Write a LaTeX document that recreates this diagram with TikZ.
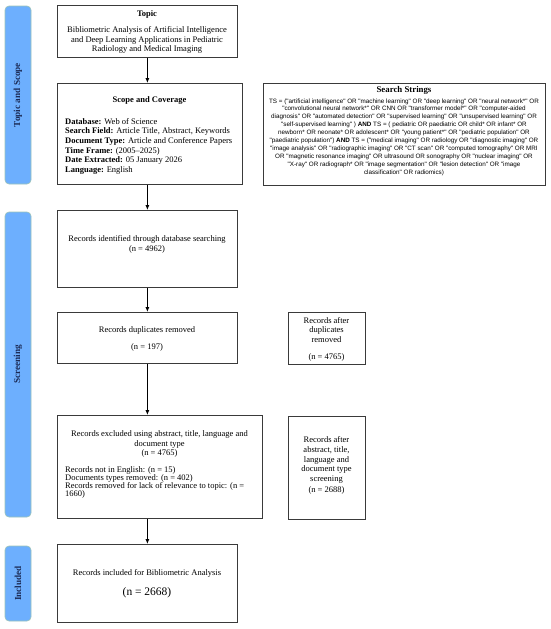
\documentclass[tikz,border=0pt]{standalone}
\usepackage{fontspec}
\setmainfont{Liberation Serif}
\newfontfamily\sansf{Liberation Sans}
\usetikzlibrary{arrows.meta}
\definecolor{barblue}{HTML}{6DAFFE}
\definecolor{baredge}{HTML}{9CC3B8}
\definecolor{bartxt}{HTML}{1B2A55}
\definecolor{boxedge}{HTML}{3A3A3A}
\tikzset{
  box/.style={draw=boxedge, line width=0.8pt, fill=white, anchor=north west, inner sep=0pt},
  bar/.style={draw=baredge, line width=0.6pt, fill=barblue, rounded corners=4pt},
  bartext/.style={rotate=90, font=\fontsize{9.2}{11}\selectfont\bfseries, text=bartxt, inner sep=0pt},
  txt/.style={inner sep=0pt, anchor=base, align=center, font=\fontsize{8.5}{9.65}\selectfont},
  ltxt/.style={inner sep=0pt, anchor=base west, align=left, font=\fontsize{8.5}{9.65}\selectfont},
  arr/.style={-{Latex[length=5pt,width=4pt]}, line width=0.8pt, black},
}
\begin{document}
\begin{tikzpicture}[x=1pt,y=-1pt]
\useasboundingbox (0,0) rectangle (550,629);
% side bars
\draw[bar] (5,6) rectangle (31,184);
\node[bartext] (lab1) at (18,95) {Topic and Scope};
\draw[bar] (5,212) rectangle (31,517);
\node[bartext] (lab2) at (18,364.5) {Screening};
\draw[bar] (5,546) rectangle (31,621);
\node[bartext] (lab3) at (18,583.5) {Included};

% boxes
\node[box, minimum width=180pt, minimum height=52pt] (topic) at (57,5) {};
\node[box, minimum width=185pt, minimum height=101pt] (scope) at (57,83) {};
\node[box, minimum width=282pt, minimum height=102pt] (search) at (263,83) {};
\node[box, minimum width=180pt, minimum height=77pt] (ident) at (57,210) {};
\node[box, minimum width=180pt, minimum height=51pt] (dup) at (57,312) {};
\node[box, minimum width=205pt, minimum height=103pt] (excl) at (57,415) {};
\node[box, minimum width=180pt, minimum height=78pt] (incl) at (57,544) {};
\node[box, minimum width=77pt, minimum height=52pt] (afterdup) at (288,312) {};
\node[box, minimum width=77pt, minimum height=103pt] (afterabs) at (288,416) {};

% topic text (anchor base = baseline of last line)
\node[txt, font=\fontsize{8.5}{9.65}\selectfont\bfseries] (topict) at (147,16.5) {Topic};
\node[txt] (topicb) at (147,51.8) {Bibliometric Analysis of Artificial Intelligence\\and Deep Learning Applications in Pediatric\\Radiology and Medical Imaging};

% scope text
\node[txt, font=\fontsize{8.5}{9.65}\selectfont\bfseries] (scopet) at (149.5,102.5) {Scope and Coverage};
\node[ltxt] (scopeb) at (65,172.4) {\textbf{Database:} Web of Science\\\textbf{Search Field:} Article Title, Abstract, Keywords\\\textbf{Document Type:} Article and Conference Papers\\\textbf{Time Frame:} (2005--2025)\\\textbf{Date Extracted:} 05 January 2026\\\textbf{Language:} English};

% search strings
\node[txt, font=\fontsize{8.8}{10}\selectfont\bfseries] (searcht) at (404,92) {Search Strings};
\node[txt, font=\sansf\fontsize{6.3}{7.9}\selectfont] (searchb) at (404,174.1) {TS = ("artificial intelligence" OR "machine learning" OR "deep learning" OR "neural network*" OR\\
"convolutional neural network*" OR CNN OR "transformer model*" OR "computer-aided\\
diagnosis" OR "automated detection" OR "supervised learning" OR "unsupervised learning" OR\\
"self-supervised learning" ) \textbf{AND} TS = ( pediatric OR paediatric OR child* OR infant* OR\\
newborn* OR neonate* OR adolescent* OR "young patient*" OR "pediatric population" OR\\
"paediatric population") \textbf{AND} TS = ("medical imaging" OR radiology OR "diagnostic imaging" OR\\
"image analysis" OR "radiographic imaging" OR "CT scan" OR "computed tomography" OR MRI\\
OR "magnetic resonance imaging" OR ultrasound OR sonography OR "nuclear imaging" OR\\
"X-ray" OR radiograph* OR "image segmentation" OR "lesion detection" OR "image\\
classification" OR radiomics)};

% records identified
\node[txt] (identt) at (147,251.2) {Records identified through database searching\\(n = 4962)};
% duplicates
\node[txt] (dupt) at (147,332.5) {Records duplicates removed};
\node[txt] (dupn) at (147,349) {(n = 197)};
% after dup
\node[txt] (afterdupt) at (326.5,342.3) {Records after\\duplicates\\removed};
\node[txt] (afterdupn) at (326.5,359) {(n = 4765)};
% excluded
\node[txt] (exclt) at (159.5,455.8) {Records excluded using abstract, title, language and\\document type\\(n = 4765)};
\node[ltxt, font=\fontsize{8.5}{8}\selectfont] (exclb) at (65,496.5) {Records not in English: (n = 15)\\Documents types removed: (n = 402)\\Records removed for lack of relevance to topic: (n =\\1660)};
% after abstract
\node[txt, font=\fontsize{8.5}{9.8}\selectfont] (afterabst) at (326.5,481.7) {Records after\\abstract, title,\\language and\\document type\\screening};
\node[txt] (afterabsn) at (326.5,492.5) {(n = 2688)};
% included
\node[txt] (inclt) at (147,575.8) {Records included for Bibliometric Analysis};
\node[txt, font=\fontsize{11.5}{13}\selectfont] (incln) at (147,595) {(n = 2668)};

% arrows
\draw[arr] (topic.south) -- (topic.south |- scope.north);
\draw[arr] (ident.north |- scope.south) -- (ident.north);
\draw[arr] (ident.south) -- (dup.north);
\draw[arr] (dup.south) -- (dup.south |- excl.north);
\draw[arr] (incl.north |- excl.south) -- (incl.north);
\end{tikzpicture}
\end{document}
